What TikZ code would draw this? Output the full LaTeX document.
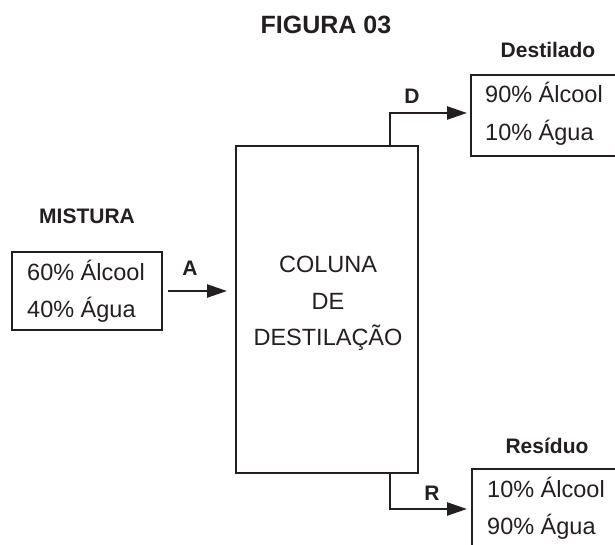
\documentclass[tikz,border=0pt]{standalone}
\usepackage{fontspec}
\setmainfont{Liberation Sans}
\usetikzlibrary{arrows.meta}
\definecolor{ink}{RGB}{35,31,32}
\tikzset{
  box/.style={draw=ink, line width=2.4pt, rectangle, inner sep=0pt, outer sep=0pt},
  arr/.style={draw=ink, line width=2.4pt, -{Triangle[length=20pt,width=13pt]}},
  reg/.style={text=ink, font=\fontsize{23.5pt}{28pt}\selectfont, inner sep=0pt},
  lbl/.style={text=ink, font=\fontsize{21pt}{25pt}\selectfont\bfseries, inner sep=0pt, anchor=base},
}
\begin{document}
\begin{tikzpicture}[x=1pt,y=-1pt]
\useasboundingbox (0,0) rectangle (615,544);
\clip (0,0) rectangle (615,544);
% title
\node[lbl, font=\fontsize{25pt}{30pt}\selectfont\bfseries] (title) at (326,33) {FIGURA 03};
% boxes
\node[box, minimum width=182pt, minimum height=327pt] (col) at (327,309.5) {};
\node[box, minimum width=150pt, minimum height=78pt] (mix) at (87,291) {};
\node[box, minimum width=180pt, minimum height=81pt] (dist) at (561,115.5) {};
\node[box, minimum width=180pt, minimum height=80pt] (res) at (562,509) {};
% column text
\node[reg, anchor=base] (c1) at (328,272) {COLUNA};
\node[reg, anchor=base] (c2) at (328,309) {DE};
\node[reg, anchor=base] (c3) at (328,345) {DESTILAÇÃO};
% box texts
\node[reg, anchor=base west] (m1) at (27,280) {60\% Álcool};
\node[reg, anchor=base west] (m2) at (27,317) {40\% Água};
\node[reg, anchor=base west] (d1) at (485,102) {90\% Álcool};
\node[reg, anchor=base west] (d2) at (485,140) {10\% Água};
\node[reg, anchor=base west] (r1) at (487,497) {10\% Álcool};
\node[reg, anchor=base west] (r2) at (487,534) {90\% Água};
% labels
\node[lbl] (lmix) at (87,223) {MISTURA};
\node[lbl] (ldist) at (548,57) {Destilado};
\node[lbl] (lres) at (547,453) {Resíduo};
\node[lbl] (la) at (190,275) {A};
\node[lbl] (ld) at (412,103) {D};
\node[lbl] (lr) at (432,500) {R};
% connectors
\coordinate (dstart) at (390,146);
\coordinate (rstart) at (390,473);
\draw[arr, shorten <=6pt, shorten >=9pt] (mix.east) -- (mix.east -| col.west);
\draw[arr, shorten >=4pt] (dstart) |- ([yshift=2.5pt]dist.west);
\draw[arr, shorten >=5pt] (rstart) |- (res.west);
\end{tikzpicture}
\end{document}
